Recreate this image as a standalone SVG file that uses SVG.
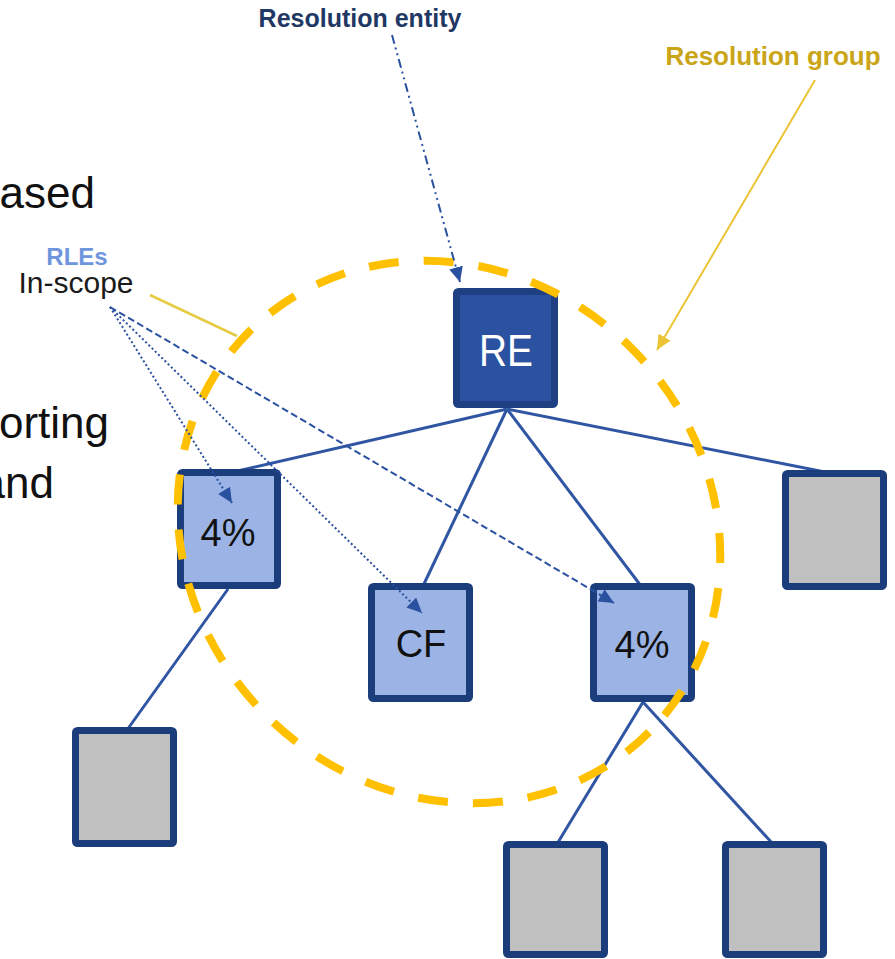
<svg xmlns="http://www.w3.org/2000/svg" width="895" height="959" viewBox="0 0 895 959">
<style>
.bg{fill:#ffffff}
.big{font-family:"Liberation Sans",Arial,sans-serif;font-size:44px;fill:#111111}
.lbl{font-family:"Liberation Sans",Arial,sans-serif;font-weight:bold}
.box{stroke:#1C3D7C;stroke-width:7;stroke-linejoin:round}
.blue{fill:#9BB4E5}
.gray{fill:#C0C0C0}
.re{fill:#2A52A0;stroke:#1E4082}
.ntext{font-family:"Liberation Sans",Arial,sans-serif;font-size:38px;fill:#111111;text-anchor:middle}
.edge{stroke:#2F55A3;stroke-width:3;fill:none}
.ann{stroke:#2A50A0;stroke-width:2;fill:none}
</style>
<defs>
<marker id="ab" markerUnits="userSpaceOnUse" markerWidth="16" markerHeight="14" refX="15" refY="7" orient="auto">
<path d="M0,0 L15,7 L0,14 Z" fill="#2A50A0"/>
</marker>
<marker id="ay" markerUnits="userSpaceOnUse" markerWidth="16" markerHeight="14" refX="15" refY="7" orient="auto">
<path d="M0,0 L15,7 L0,14 Z" fill="#EAC435"/>
</marker>
</defs>
<rect class="bg" x="0" y="0" width="895" height="959"/>

<g id="background-text">
<text class="big" x="95" y="208" text-anchor="end">ased</text>
<text class="big" x="109" y="438" text-anchor="end">orting</text>
<text class="big" x="54" y="498" text-anchor="end">and</text>
</g>

<g id="connectors">
<line class="edge" x1="507" y1="409" x2="233" y2="472"/>
<line class="edge" x1="507" y1="409" x2="423" y2="586"/>
<line class="edge" x1="507" y1="409" x2="641" y2="586"/>
<line class="edge" x1="507" y1="409" x2="830" y2="473"/>
<line class="edge" x1="228" y1="589" x2="127" y2="730"/>
<line class="edge" x1="643" y1="702" x2="557" y2="844"/>
<line class="edge" x1="643" y1="702" x2="773" y2="844"/>
</g>

<g id="node-re">
<rect class="box re" x="456.5" y="291.5" width="98" height="113" rx="2"/>
<text x="506" y="366" font-family="Liberation Sans, Arial, sans-serif" font-size="44" fill="#ffffff" text-anchor="middle" textLength="54" lengthAdjust="spacingAndGlyphs">RE</text>
</g>
<g id="node-left-4">
<rect class="box blue" x="180.5" y="472.5" width="97" height="113" rx="2"/>
<text class="ntext" x="228" y="546">4%</text>
</g>
<g id="node-cf">
<rect class="box blue" x="371.5" y="586.5" width="98" height="112" rx="2"/>
<text class="ntext" x="421" y="657">CF</text>
</g>
<g id="node-right-4">
<rect class="box blue" x="593.5" y="586.5" width="98" height="112" rx="2"/>
<text class="ntext" x="642" y="658">4%</text>
</g>
<g id="node-gray-right">
<rect class="box gray" x="785.5" y="473.5" width="98" height="113" rx="2"/>
</g>
<g id="node-gray-left">
<rect class="box gray" x="75.5" y="730.5" width="98" height="113" rx="2"/>
</g>
<g id="node-gray-bottom1">
<rect class="box gray" x="506.5" y="844.5" width="98" height="110" rx="2"/>
</g>
<g id="node-gray-bottom2">
<rect class="box gray" x="725.5" y="844.5" width="98" height="110" rx="2"/>
</g>

<g id="resolution-group-boundary">
<ellipse cx="449" cy="532" rx="283" ry="259" transform="rotate(45 449 532)" fill="none" stroke="#FFC000" stroke-width="8" stroke-dasharray="30 25"/>
</g>

<g id="annotations">
<line x1="392" y1="35" x2="460" y2="282" stroke="#2A50A0" stroke-width="2" stroke-dasharray="9 4 2 4 2 4" marker-end="url(#ab)"/>
<line x1="815" y1="80" x2="657" y2="350" stroke="#EAC435" stroke-width="2" marker-end="url(#ay)"/>
<line x1="150" y1="295" x2="237" y2="336" stroke="#E6CB45" stroke-width="2.5"/>
<line class="ann" x1="110" y1="307" x2="232" y2="503" stroke-dasharray="2 2.5" marker-end="url(#ab)"/>
<line class="ann" x1="110" y1="307" x2="422" y2="613" stroke-dasharray="2 2.5" marker-end="url(#ab)"/>
<line class="ann" x1="110" y1="307" x2="614" y2="603" stroke-dasharray="7 3.5" marker-end="url(#ab)"/>
</g>

<g id="labels">
<text class="lbl" x="360" y="27" font-size="25" fill="#1F3864" text-anchor="middle">Resolution entity</text>
<text class="lbl" x="773" y="65" font-size="26" fill="#C9A517" text-anchor="middle">Resolution group</text>
<text class="lbl" x="77" y="265" font-size="24" fill="#6F96DD" text-anchor="middle">RLEs</text>
<text x="76" y="293" font-family="Liberation Sans, Arial, sans-serif" font-size="30" fill="#1a1a1a" text-anchor="middle">In-scope</text>
</g>
</svg>
